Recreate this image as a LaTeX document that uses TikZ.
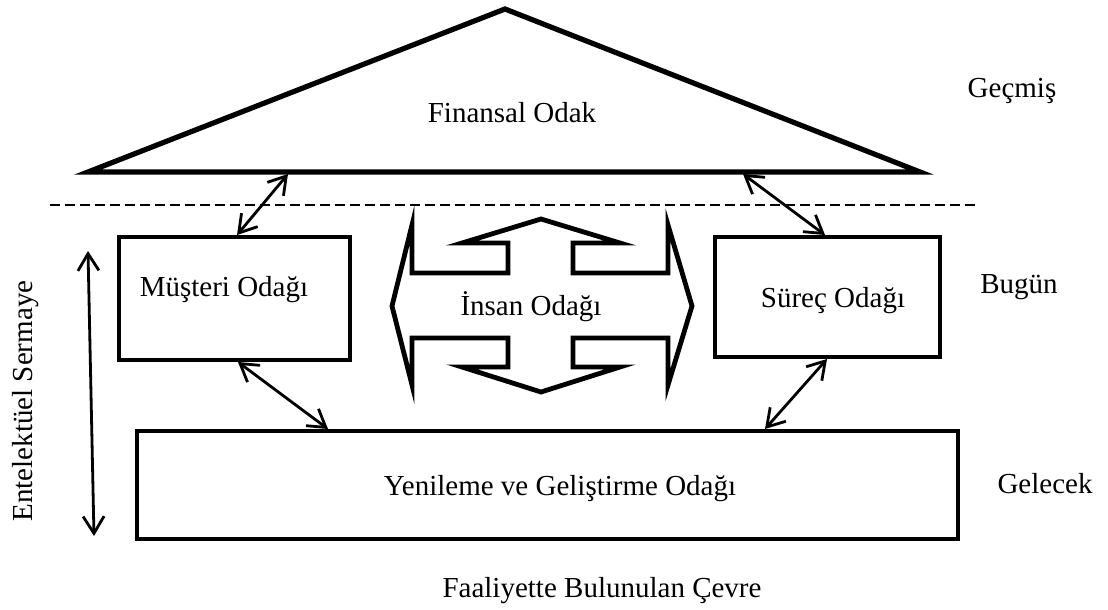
\documentclass[tikz,border=0pt]{standalone}
\usepackage{fontspec}
\setmainfont{Liberation Serif}
\usetikzlibrary{arrows.meta}
\begin{document}
\begin{tikzpicture}[x=1pt,y=-1pt,
  lbl/.style={font=\fontsize{29}{34}\selectfont, inner sep=0pt, anchor=base},
  focusbox/.style={draw, line width=4.8pt, inner sep=0pt},
  link/.style={line width=2.8pt, <->, >={Straight Barb[length=17pt,width=21pt,line width=2.8pt]}},
  outline/.style={line width=4.8pt, line join=miter},
]
\useasboundingbox (0,0) rectangle (1108,610);

% financial focus: the roof
\coordinate (roofL) at (88,172);
\coordinate (roofTop) at (505,9);
\coordinate (roofR) at (920,172);
\draw[line width=5.2pt, line join=miter] (roofL) -- (roofTop) -- (roofR) -- cycle;
\node[lbl] (fin) at (512,122) {Finansal Odak};

% separation between past and present
\coordinate (sepL) at (50,205);
\coordinate (sepR) at (978,205);
\draw[line width=2.8pt, dash pattern=on 10pt off 5pt] (sepL) -- (sepR);

% the three lower boxes
\node[focusbox, minimum width=231pt, minimum height=123pt] (mus) at (234.5,298.5) {};
\node[focusbox, minimum width=225pt, minimum height=120pt] (sur) at (827.5,297) {};
\node[focusbox, minimum width=821pt, minimum height=108pt] (yen) at (547.5,485) {};
\node[lbl] (musT) at (224,296) {Müşteri Odağı};
\node[lbl] (surT) at (833,307) {Süreç Odağı};
\node[lbl] (yenT) at (560,495) {Yenileme ve Geliştirme Odağı};

% human focus: four-way arrow
\draw[outline]
  (541,219) -- (620,243) -- (573,243) -- (573,273) -- (668,273) -- (668,225)
  -- (692,306) -- (668,385) -- (668,338) -- (573,338) -- (573,367) -- (620,367)
  -- (541,392) -- (462,367) -- (508,367) -- (508,338) -- (412,338) -- (412,385)
  -- (392,306) -- (412,225) -- (412,273) -- (508,273) -- (508,243) -- (462,243)
  -- cycle;
\node[lbl] (ins) at (531,315) {İnsan Odağı};

% links between the foci
\coordinate (finL) at (288,174);
\coordinate (finR) at (743,174);
\coordinate (musTop) at (237,235);
\coordinate (surTop) at (825,235);
\coordinate (musBot) at (238,362);
\coordinate (surBot) at (827,359);
\coordinate (yenL) at (328,429);
\coordinate (yenR) at (765,429);
\draw[link] (finL) -- (musTop);
\draw[link] (finR) -- (surTop);
\draw[link] (musBot) -- (yenL);
\draw[link] (surBot) -- (yenR);

% time axis labels
\node[lbl] (past) at (1012,97) {Geçmiş};
\node[lbl] (now) at (1019,293) {Bugün};
\node[lbl] (future) at (1045,493) {Gelecek};

% intellectual capital axis
\coordinate (capTop) at (88,251);
\coordinate (capBot) at (94,536);
\draw[link] (capTop) -- (capBot);
\node[lbl, rotate=90] (cap) at (32,401) {Entelektüel Sermaye};

% environment
\node[lbl] (env) at (602,597) {Faaliyette Bulunulan Çevre};
\end{tikzpicture}
\end{document}
